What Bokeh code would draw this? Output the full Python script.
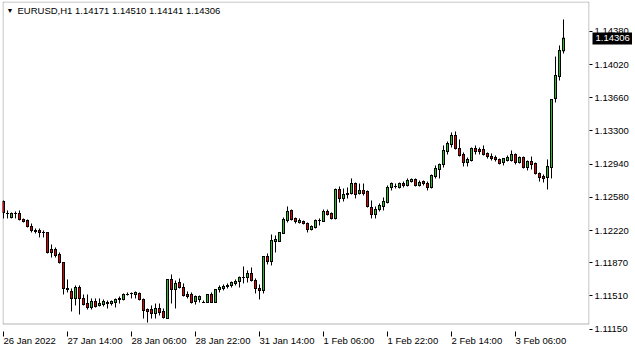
from bokeh.plotting import figure
from bokeh.models import ColumnDataSource, Range1d, FixedTicker, LinearAxis, Label, BoxAnnotation
from bokeh.embed import file_html
from bokeh.resources import INLINE

symbol = "EURUSD,H1"

open_ = [1.12535, 1.12405, 1.12361, 1.12405, 1.12405, 1.12340, 1.12329, 1.12264, 1.12221, 1.12221,
         1.12199, 1.12199, 1.12014, 1.12014, 1.11960, 1.11873, 1.11591, 1.11559, 1.11483, 1.11602,
         1.11483, 1.11428, 1.11385, 1.11450, 1.11407, 1.11417, 1.11439, 1.11428, 1.11439, 1.11483,
         1.11472, 1.11526, 1.11537, 1.11526, 1.11537, 1.11472, 1.11363, 1.11363, 1.11320, 1.11374,
         1.11342, 1.11265, 1.11689, 1.11580, 1.11656, 1.11602, 1.11526, 1.11526, 1.11450, 1.11472,
         1.11439, 1.11439, 1.11526, 1.11439, 1.11580, 1.11591, 1.11613, 1.11624, 1.11646, 1.11667,
         1.11711, 1.11711, 1.11754, 1.11678, 1.11591, 1.11570, 1.11938, 1.11884, 1.12101, 1.12101,
         1.12188, 1.12329, 1.12438, 1.12351, 1.12307, 1.12318, 1.12296, 1.12231, 1.12253, 1.12329,
         1.12318, 1.12427, 1.12405, 1.12351, 1.12665, 1.12568, 1.12611, 1.12622, 1.12730, 1.12622,
         1.12655, 1.12644, 1.12470, 1.12394, 1.12448, 1.12481, 1.12524, 1.12687, 1.12698, 1.12687,
         1.12730, 1.12709, 1.12752, 1.12774, 1.12709, 1.12752, 1.12730, 1.12687, 1.12806, 1.12882,
         1.12937, 1.13078, 1.13154, 1.13251, 1.13110, 1.13045, 1.12958, 1.12980, 1.13110, 1.13099,
         1.13099, 1.13056, 1.13023, 1.13012, 1.12991, 1.12958, 1.12980, 1.12980, 1.13045, 1.12958,
         1.13012, 1.12904, 1.12969, 1.12947, 1.12839, 1.12806, 1.12796, 1.12904, 1.13653, 1.13891,
         1.14171]
high = [1.12546, 1.12438, 1.12416, 1.12427, 1.12438, 1.12351, 1.12340, 1.12296, 1.12242, 1.12242,
        1.12221, 1.12199, 1.12069, 1.12036, 1.11982, 1.11873, 1.11689, 1.11591, 1.11624, 1.11624,
        1.11526, 1.11526, 1.11483, 1.11483, 1.11483, 1.11472, 1.11461, 1.11461, 1.11483, 1.11504,
        1.11537, 1.11548, 1.11548, 1.11559, 1.11548, 1.11483, 1.11374, 1.11407, 1.11428, 1.11428,
        1.11374, 1.11689, 1.11743, 1.11678, 1.11700, 1.11646, 1.11559, 1.11548, 1.11515, 1.11515,
        1.11461, 1.11526, 1.11548, 1.11580, 1.11624, 1.11635, 1.11646, 1.11667, 1.11689, 1.11721,
        1.11830, 1.11787, 1.11819, 1.11700, 1.11635, 1.11938, 1.11971, 1.12177, 1.12166, 1.12199,
        1.12361, 1.12481, 1.12448, 1.12361, 1.12351, 1.12329, 1.12307, 1.12275, 1.12340, 1.12351,
        1.12448, 1.12448, 1.12416, 1.12676, 1.12698, 1.12676, 1.12687, 1.12785, 1.12741, 1.12730,
        1.12730, 1.12655, 1.12546, 1.12481, 1.12514, 1.12579, 1.12709, 1.12741, 1.12730, 1.12741,
        1.12752, 1.12785, 1.12785, 1.12785, 1.12763, 1.12763, 1.12752, 1.12828, 1.12926, 1.12947,
        1.13143, 1.13186, 1.13284, 1.13295, 1.13208, 1.13067, 1.13012, 1.13121, 1.13143, 1.13121,
        1.13143, 1.13067, 1.13056, 1.13034, 1.13001, 1.13001, 1.13034, 1.13089, 1.13056, 1.13023,
        1.13023, 1.12980, 1.13023, 1.12958, 1.12850, 1.12828, 1.12991, 1.13642, 1.14108, 1.14228,
        1.14510]
low = [1.12351, 1.12351, 1.12351, 1.12351, 1.12329, 1.12307, 1.12253, 1.12199, 1.12188, 1.12145,
       1.12145, 1.11971, 1.11927, 1.11927, 1.11862, 1.11526, 1.11548, 1.11342, 1.11407, 1.11309,
       1.11407, 1.11363, 1.11363, 1.11385, 1.11396, 1.11396, 1.11374, 1.11407, 1.11385, 1.11428,
       1.11461, 1.11515, 1.11483, 1.11483, 1.11461, 1.11265, 1.11222, 1.11265, 1.11265, 1.11298,
       1.11265, 1.11265, 1.11428, 1.11374, 1.11591, 1.11504, 1.11483, 1.11428, 1.11417, 1.11439,
       1.11439, 1.11439, 1.11439, 1.11439, 1.11548, 1.11570, 1.11591, 1.11602, 1.11624, 1.11602,
       1.11646, 1.11656, 1.11667, 1.11537, 1.11472, 1.11537, 1.11852, 1.11841, 1.11982, 1.12101,
       1.12188, 1.12307, 1.12329, 1.12296, 1.12296, 1.12286, 1.12199, 1.12221, 1.12242, 1.12275,
       1.12318, 1.12383, 1.12340, 1.12340, 1.12524, 1.12535, 1.12568, 1.12611, 1.12568, 1.12611,
       1.12600, 1.12470, 1.12351, 1.12351, 1.12427, 1.12438, 1.12514, 1.12655, 1.12676, 1.12676,
       1.12687, 1.12698, 1.12741, 1.12698, 1.12698, 1.12709, 1.12655, 1.12676, 1.12785, 1.12785,
       1.12904, 1.13045, 1.13121, 1.13099, 1.13023, 1.12915, 1.12915, 1.12969, 1.13045, 1.13045,
       1.13034, 1.13001, 1.12980, 1.12969, 1.12937, 1.12926, 1.12969, 1.12969, 1.12937, 1.12947,
       1.12893, 1.12872, 1.12882, 1.12828, 1.12752, 1.12741, 1.12665, 1.12785, 1.13609, 1.13848,
       1.14141]
close = [1.12416, 1.12405, 1.12405, 1.12405, 1.12340, 1.12318, 1.12264, 1.12221, 1.12210, 1.12199,
         1.12199, 1.11982, 1.11982, 1.11949, 1.11873, 1.11591, 1.11580, 1.11483, 1.11602, 1.11483,
         1.11417, 1.11385, 1.11450, 1.11396, 1.11428, 1.11450, 1.11428, 1.11450, 1.11472, 1.11472,
         1.11526, 1.11526, 1.11537, 1.11548, 1.11472, 1.11353, 1.11342, 1.11320, 1.11374, 1.11331,
         1.11276, 1.11689, 1.11580, 1.11646, 1.11602, 1.11515, 1.11504, 1.11439, 1.11504, 1.11504,
         1.11439, 1.11526, 1.11439, 1.11580, 1.11602, 1.11613, 1.11624, 1.11656, 1.11667, 1.11711,
         1.11711, 1.11754, 1.11678, 1.11591, 1.11570, 1.11938, 1.11884, 1.12112, 1.12123, 1.12199,
         1.12340, 1.12427, 1.12340, 1.12318, 1.12329, 1.12296, 1.12231, 1.12264, 1.12329, 1.12329,
         1.12427, 1.12394, 1.12351, 1.12665, 1.12568, 1.12611, 1.12622, 1.12730, 1.12611, 1.12655,
         1.12622, 1.12481, 1.12394, 1.12448, 1.12492, 1.12535, 1.12687, 1.12730, 1.12698, 1.12730,
         1.12709, 1.12763, 1.12774, 1.12709, 1.12741, 1.12730, 1.12687, 1.12817, 1.12893, 1.12937,
         1.13089, 1.13164, 1.13251, 1.13110, 1.13034, 1.12958, 1.12991, 1.13110, 1.13078, 1.13078,
         1.13045, 1.13023, 1.13001, 1.12991, 1.12947, 1.13001, 1.13012, 1.13045, 1.12958, 1.13012,
         1.12904, 1.12969, 1.12937, 1.12839, 1.12796, 1.12785, 1.12915, 1.13642, 1.13902, 1.14174,
         1.14306]

time_tick_bars = [0, 16, 32, 48, 64, 80, 96, 112, 128]
time_tick_labels = ["26 Jan 2022", "27 Jan 14:00", "28 Jan 06:00", "28 Jan 22:00",
                    "31 Jan 14:00", "1 Feb 06:00", "1 Feb 22:00", "2 Feb 14:00", "3 Feb 06:00"]
price_ticks = [1.11150, 1.11510, 1.11870, 1.12220, 1.12580, 1.12940,
               1.13300, 1.13660, 1.14020, 1.14380]

BULL = "#22c022"
BEAR = "#e00000"
FONT = "Liberation Sans"
FS = 9.5  # px

n = len(open_)
idx = list(range(n))
bar_px = 4.0
px_price = 0.0001085
frame_w, frame_h = 587, 328
chart_h = 322          # visible chart box height (price scale runs a bit below it)
x0 = -0.25
x1 = x0 + frame_w / bar_px
y_top = 1.14705
y_bot = y_top - frame_h * px_price

hp = 0.5 * px_price
body_hi = [max(o, c) for o, c in zip(open_, close)]
body_lo = [min(o, c) for o, c in zip(open_, close)]
inner_hi = [max(h - hp, l + hp) for h, l in zip(body_hi, body_lo)]
inner_lo = [l + hp for l in body_lo]
src = ColumnDataSource(dict(
    x=idx,
    otop=[h + hp for h in body_hi],
    obot=[l - hp for l in body_lo],
    itop=inner_hi,
    ibot=inner_lo,
    high=high, low=low,
    color=[BULL if c > o else BEAR for o, c in zip(open_, close)],
))

p = figure(frame_width=frame_w, frame_height=frame_h, output_backend="svg",
           toolbar_location=None, x_range=Range1d(x0, x1), y_range=Range1d(y_bot, y_top),
           y_axis_location=None, min_border_left=2, min_border_top=1,
           min_border_right=0, min_border_bottom=0)
p.background_fill_color = "white"
p.border_fill_color = "white"
p.outline_line_color = None
p.grid.visible = False

# chart border
p.add_layout(BoxAnnotation(left=x0 + 0.5 / bar_px, right=x1 - 0.5 / bar_px,
                           top=y_top - 0.5 * px_price, bottom=y_top - (chart_h + 0.5) * px_price,
                           fill_alpha=0, line_color="black", line_width=1, level="underlay"))

# wick
p.segment(x0="x", y0="low", x1="x", y1="high", source=src, line_color="black", line_width=1)
# candle body: 3 px black frame with a 1 px coloured core (drawn as pixel-aligned strokes)
p.segment(x0="x", y0="obot", x1="x", y1="otop", source=src, line_color="black",
          line_width=3, line_cap="butt")
p.segment(x0="x", y0="ibot", x1="x", y1="itop", source=src, line_color="color",
          line_width=1, line_cap="butt")

# right price axis
ya = LinearAxis(ticker=FixedTicker(ticks=price_ticks),
                major_label_overrides={t: f"{t:.5f}" for t in price_ticks})
ya.major_tick_out = 3
ya.major_tick_in = 0
ya.minor_tick_line_color = None
ya.major_label_standoff = 2
ya.major_label_text_font = FONT
ya.major_label_text_font_size = f"{FS}px"
ya.major_label_text_color = "black"
ya.axis_line_color = None
p.add_layout(ya, "right")

# current price marker on the price scale (thick tick acting as the black box)
last = close[-1]
yb = LinearAxis(ticker=FixedTicker(ticks=[last]), major_label_overrides={last: f"{last:.5f}"})
yb.axis_line_color = None
yb.minor_tick_line_color = None
yb.major_tick_line_color = "black"
yb.major_tick_line_width = 12
yb.major_tick_line_cap = "butt"
yb.major_tick_in = 39
yb.major_tick_out = 2
yb.major_label_standoff = -38
yb.major_label_text_font = FONT
yb.major_label_text_font_size = f"{FS}px"
yb.major_label_text_color = "white"
p.add_layout(yb, "right")

# time axis: tick marks only
xa = p.xaxis[0]
xa.ticker = FixedTicker(ticks=time_tick_bars)
xa.major_label_overrides = {t: "" for t in time_tick_bars}
xa.major_label_text_font_size = "1px"
xa.major_tick_in = -2
xa.major_tick_out = 7
xa.minor_tick_line_color = None
xa.axis_line_color = None
xa.major_label_standoff = 0

# time axis: left-aligned labels
w_em = {c: 0.556 for c in "0123456789abenJF"}
w_em.update({" ": 0.278, ":": 0.278, ".": 0.278, "J": 0.5, "F": 0.611})
centers = []
for b, lab in zip(time_tick_bars, time_tick_labels):
    w = sum(w_em.get(ch, 0.556) for ch in lab) * FS
    centers.append(round(b + (w / 2.0) / bar_px, 3))
xl = LinearAxis(ticker=FixedTicker(ticks=centers),
                major_label_overrides={c: lab for c, lab in zip(centers, time_tick_labels)})
xl.major_tick_in = 0
xl.major_tick_out = 0
xl.major_tick_line_color = None
xl.minor_tick_line_color = None
xl.axis_line_color = None
xl.major_label_standoff = -2
xl.major_label_text_font = FONT
xl.major_label_text_font_size = f"{FS}px"
xl.major_label_text_color = "black"
p.add_layout(xl, "below")

# header
hy = y_top - 9 * px_price
p.add_layout(Label(x=x0 + 4 / bar_px, y=hy, text="▼", text_font=FONT, text_font_size="7px",
                   text_baseline="middle", text_color="black"))
header = f"{symbol}  {open_[-1]:.5f} {high[-1]:.5f} {low[-1]:.5f} {close[-1]:.5f}"
p.add_layout(Label(x=x0 + 15 / bar_px, y=hy, text=header, text_font=FONT,
                   text_font_size=f"{FS}px", text_baseline="middle", text_color="black"))

open("out.html", "w").write(file_html(p, INLINE))
